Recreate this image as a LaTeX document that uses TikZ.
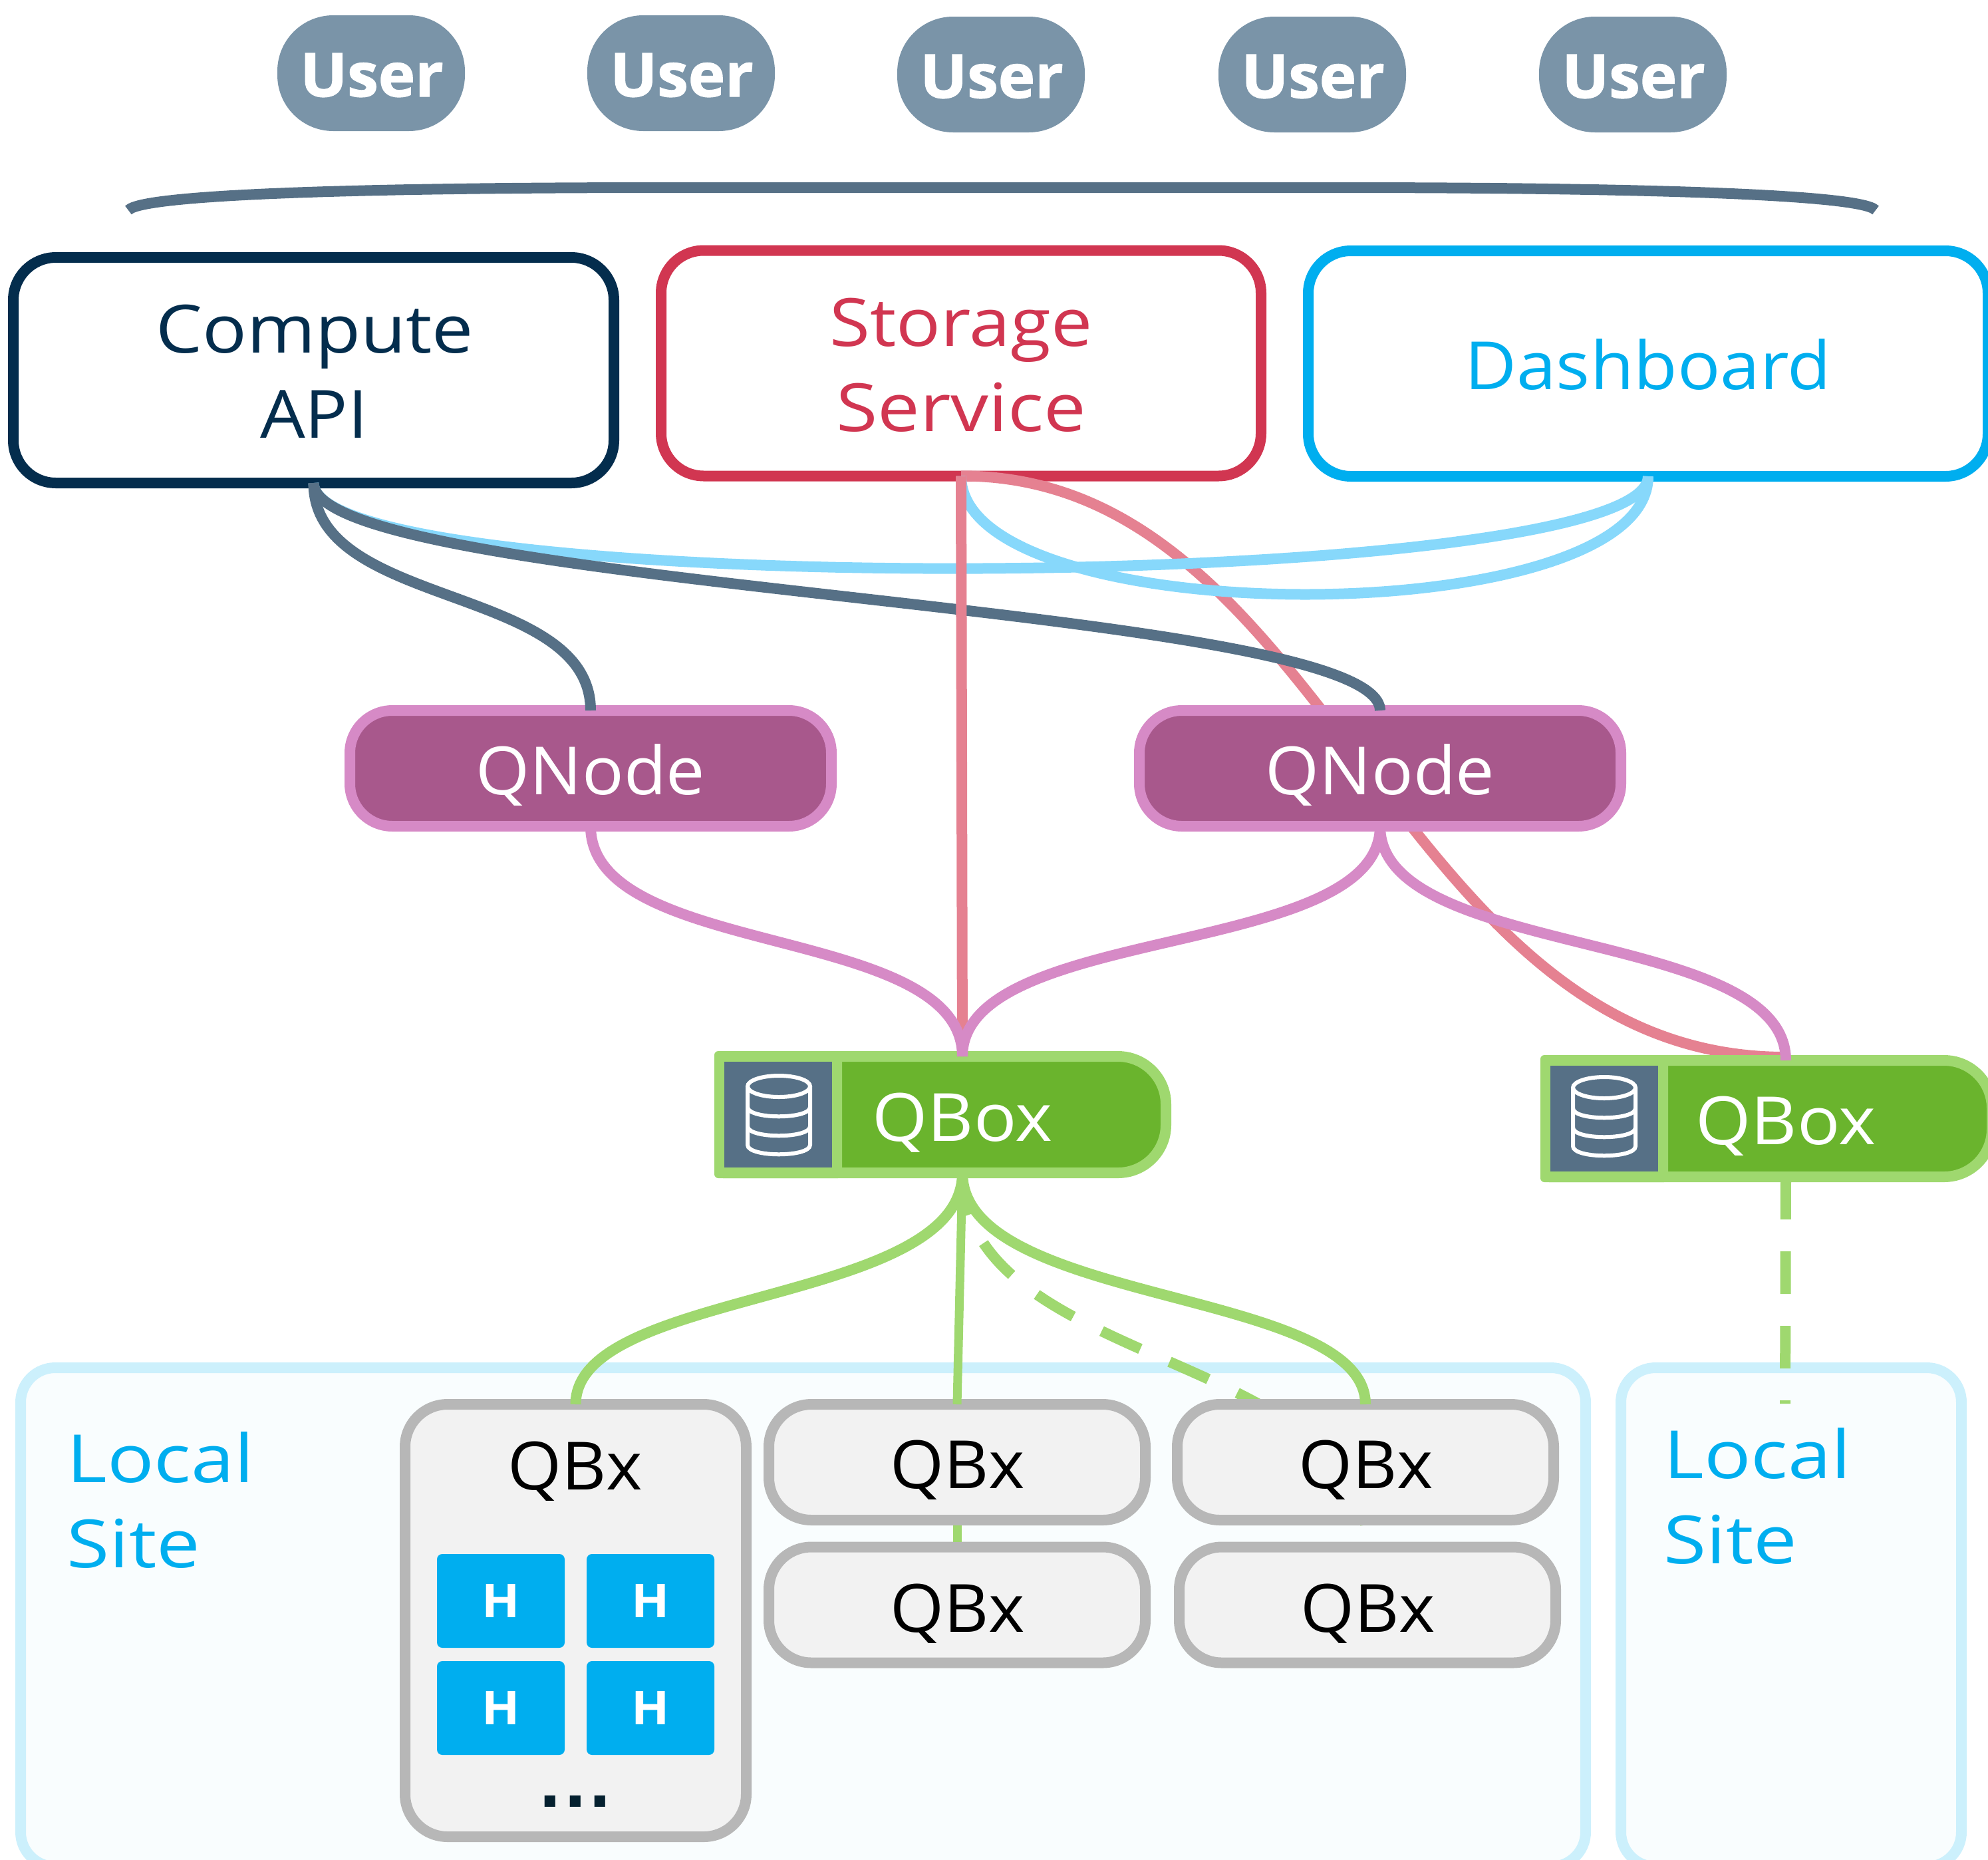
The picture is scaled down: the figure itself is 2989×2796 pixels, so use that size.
\documentclass[tikz,border=0pt]{standalone}
\usepackage{fontspec}
\setmainfont{Open Sans}[FakeStretch=1.07]
\newfontfamily\narrowfont{Open Sans}[FakeStretch=1.04]
\newfontfamily\widefont{Open Sans}[FakeStretch=1.11]
\newfontfamily\widerfont{Open Sans}[FakeStretch=1.135]
\newfontfamily\widestfont{Open Sans}[FakeStretch=1.17]
\newfontfamily\userfont{Open Sans}[BoldFeatures={FakeStretch=1.03,FakeBold=1.5}]
\newfontfamily\dotfont{Liberation Sans}
\definecolor{cuser}{HTML}{7A94A8}
\definecolor{cteal}{HTML}{567086}
\definecolor{cnavy}{HTML}{042D4D}
\definecolor{cred}{HTML}{D13651}
\definecolor{ccoral}{HTML}{E58191}
\definecolor{cblue}{HTML}{00AEEF}
\definecolor{csky}{HTML}{87D8FB}
\definecolor{cpink}{HTML}{D68AC6}
\definecolor{cplum}{HTML}{A8588C}
\definecolor{clime}{HTML}{9FD86F}
\definecolor{cgreen}{HTML}{6AB42D}
\definecolor{csite}{HTML}{CCF0FC}
\definecolor{csitefill}{HTML}{F9FDFE}
\definecolor{cgray}{HTML}{B7B7B7}
\definecolor{cgrayfill}{HTML}{F2F2F2}
\definecolor{cdots}{HTML}{04202F}
\tikzset{
  x=0.5pt,y=-0.5pt,
  labelfont/.style={font=\fontsize{50}{64}\selectfont},
  boxbase/.style={rectangle,line width=8pt,outer sep=0pt,inner sep=0pt,align=center,labelfont},
  userbox/.style={rectangle,rounded corners=42pt,fill=cuser,minimum width=141pt,minimum height=87pt,outer sep=0pt,inner sep=0pt},
  usertext/.style={text=white,inner sep=0pt,anchor=base,font=\userfont\fontsize{45.5}{50}\selectfont\bfseries},
  service/.style={boxbase,draw,fill=white,rounded corners=32pt},
  qnodebox/.style={boxbase,draw=cpink,fill=cplum,rounded corners=32pt,minimum width=362pt,minimum height=87pt},
  sitebox/.style={rectangle,draw=csite,fill=csitefill,line width=8pt,rounded corners=26pt,outer sep=0pt},
  qbxbox/.style={boxbase,draw=cgray,fill=cgrayfill,rounded corners=32pt,minimum width=283pt,minimum height=87pt},
  hbox/.style={rectangle,fill=cblue,text=white,rounded corners=4pt,minimum width=96pt,minimum height=70.5pt,inner sep=0pt,font=\fontsize{35}{40}\selectfont\bfseries},
  sitelabel/.style={text=cblue,inner sep=0pt,anchor=base west,font=\widestfont\fontsize{50}{64}\selectfont},
  textonly/.style={labelfont,inner sep=0pt,outer sep=0pt,anchor=base},
  qtext/.style={textonly,font=\narrowfont\fontsize{50}{64}\selectfont},
  link/.style={line width=8pt},
  thinlink/.style={line width=6.5pt},
  dashlink/.style={link,draw=clime,dash pattern=on 32pt off 24pt},
  shell/.style={draw=clime,fill=cgreen,line width=8pt},
  icon/.style={draw=white,line width=3pt},
}
\newcommand{\dbicon}[2]{%
  \draw[icon] (#1,#2) ellipse [x radius=47,y radius=16];
  \draw[icon] (#1-47,#2) -- (#1-47,#2+88) .. controls (#1-47,#2+107) and (#1+47,#2+107) .. (#1+47,#2+88) -- (#1+47,#2);
  \draw[icon] (#1-47,#2+31) .. controls (#1-47,#2+50) and (#1+47,#2+50) .. (#1+47,#2+31);
  \draw[icon] (#1-47,#2+60) .. controls (#1-47,#2+79) and (#1+47,#2+79) .. (#1+47,#2+60);
}
\newcommand{\qboxshell}[2]{% left x, top y
  \draw[shell] (#1,#2+87) [rounded corners=3pt] -- (#1,#2) -- (#1+300,#2) [rounded corners=36pt] -- (#1+671,#2) -- (#1+671,#2+175) -- (#1+300,#2+175) [rounded corners=3pt] -- (#1,#2+175) -- cycle;
  \fill[clime,rounded corners=3pt] (#1-8,#2-8) rectangle (#1+184,#2+183);
  \fill[cteal] (#1+7,#2+8) rectangle (#1+169,#2+167);
}
\begin{document}
\begin{tikzpicture}
\useasboundingbox (0,0) rectangle (2989,2796);
\clip (0,0) rectangle (2989,2796);

% local sites
\node[sitebox,minimum width=1176.5pt,minimum height=375pt,anchor=north west] (site1) at (31,2056) {};
\node[sitebox,minimum width=256pt,minimum height=375pt,anchor=north west] (site2) at (2437,2056) {};

% users
\node[userbox] (u1) at (558,110) {};
\node[userbox] (u2) at (1024,110) {};
\node[userbox] (u3) at (1490,112) {};
\node[userbox] (u4) at (1973,112) {};
\node[userbox] (u5) at (2455,112) {};
\node[usertext] (u1t) at (559,145) {User};
\node[usertext] (u2t) at (1025,145) {User};
\node[usertext] (u3t) at (1491,147) {User};
\node[usertext] (u4t) at (1974,147) {User};
\node[usertext] (u5t) at (2456,147) {User};

% brace
\coordinate (braceL) at (193,316);
\coordinate (braceR) at (2820,316);
\draw[cteal,line width=8pt] (braceL) .. controls (215,290) and (600,282) .. (1000,282) -- (2010,282) .. controls (2410,282) and (2798,290) .. (braceR);

% connectors under the boxes
\coordinate (qb2end) at (2684,1589);
\node[service,draw=cred,minimum width=451pt,minimum height=169.5pt] (storage) at (1445,546) {};
\node[textonly,text=cred,font=\widefont\fontsize{50}{64}\selectfont] (storaget) at (1445,520) {Storage};
\node[textonly,text=cred,font=\widerfont\fontsize{50}{64}\selectfont] (servicet) at (1445,648) {Service};
\draw[link,ccoral] (storage.south) .. controls (2000,715) and (2096,1589) .. (qb2end);

% qnodes
\node[qnodebox] (qn1) at (888,1155) {};
\node[qnodebox] (qn2) at (2075,1155) {};
\node[qtext,text=white] (qn1t) at (888,1194) {QNode};
\node[qtext,text=white] (qn2t) at (2075,1194) {QNode};

% service boxes
\node[service,draw=cnavy,minimum width=451.5pt,minimum height=169.5pt] (compute) at (471.5,556.5) {};
\node[textonly,text=cnavy,font=\widefont\fontsize{50}{64}\selectfont] (computet) at (473,530) {Compute};
\node[textonly,text=cnavy] (apit) at (472,658) {API};
\node[service,draw=cblue,minimum width=511pt,minimum height=169.5pt] (dash) at (2478,546.5) {};
\node[textonly,text=cblue] (dashtext) at (2478,585) {Dashboard};

\draw[link,csky] (compute.south) .. controls +(0,178) and +(0,178) .. (dash.south);
\draw[link,csky] (storage.south) .. controls +(0,237) and +(0,237) .. (dash.south);
\draw[link,cteal] (compute.south) .. controls +(0,190) and +(0,-190) .. (qn1.north);
\draw[link,cteal] (compute.south) .. controls +(0,160) and +(0,-160) .. (qn2.north);

% qbox
\qboxshell{1082}{1588}
\dbicon{1171}{1633}
\node[textonly,text=white] (qbox1t) at (1447,1715) {QBox};
\node[minimum width=260pt,minimum height=87.5pt,inner sep=0pt,outer sep=0pt] (qbox1) at (1447,1675.5) {};
\qboxshell{2324}{1594}
\dbicon{2412}{1635}
\node[textonly,text=white] (qbox2t) at (2685,1720) {QBox};
\node[minimum width=260pt,minimum height=87.5pt,inner sep=0pt,outer sep=0pt] (qbox2) at (2685,1681.5) {};

\draw[link,ccoral] (storage.south) -- (qbox1.north);
\draw[link,cpink] (qn1.south) .. controls +(0,200) and +(0,-200) .. (qbox1.north);
\draw[link,cpink] (qn2.south) .. controls +(0,200) and +(0,-200) .. (qbox1.north);
\draw[link,cpink] (qn2.south) .. controls +(0,200) and +(0,-200) .. (qbox2.north);

% connectors behind the QBx boxes
\coordinate (c3bottom) at (2056,2325);
\coordinate (site2end) at (2684,2110);
\draw[dashlink] (qbox1.south) .. controls +(0,295) and +(0,-295) .. (c3bottom);
\draw[dashlink] (qbox2.south) -- (site2end);

% QBx boxes
\node[boxbase,draw=cgray,fill=cgrayfill,rounded corners=32pt,minimum width=256.5pt,minimum height=325pt] (big) at (865.5,2436) {};
\node[qtext,text=black] (bigt) at (865,2239) {QBx};
\node[hbox] (h1) at (753,2406.5) {H};
\node[hbox] (h2) at (978,2406.5) {H};
\node[hbox] (h3) at (753,2567.5) {H};
\node[hbox] (h4) at (978,2567.5) {H};
\node[inner sep=0pt,text=cdots,font=\dotfont\bfseries\fontsize{57}{60}\selectfont,anchor=base] (dots) at (865,2716) {.\kern3pt.\kern3pt.};

\node[qbxbox] (q21) at (1439,2198) {};
\node[qbxbox] (q22) at (1439,2412.5) {};
\node[qbxbox] (q31) at (2053,2198) {};
\node[qbxbox] (q32) at (2056,2412.5) {};
\node[qtext,text=black] (q21t) at (1440,2237) {QBx};
\node[qtext,text=black] (q22t) at (1440,2453) {QBx};
\node[qtext,text=black] (q31t) at (2054,2237) {QBx};
\node[qtext,text=black] (q32t) at (2057,2453) {QBx};

\draw[thinlink,clime,shorten <=4pt,shorten >=4pt] (q21.south) -- (q22.north);
\draw[link,clime] (qbox1.south) .. controls +(0,200) and +(0,-175) .. (big.north);
\draw[thinlink,clime] (qbox1.south) -- (q21.north);
\draw[link,clime] (qbox1.south) .. controls +(0,200) and +(0,-175) .. (q31.north);

% site labels
\node[sitelabel] (l1) at (100,2228) {Local};
\node[sitelabel] (l1b) at (100,2356) {Site};
\node[sitelabel] (l2) at (2501,2222) {Local};
\node[sitelabel] (l2b) at (2501,2350) {Site};
\end{tikzpicture}
\end{document}
